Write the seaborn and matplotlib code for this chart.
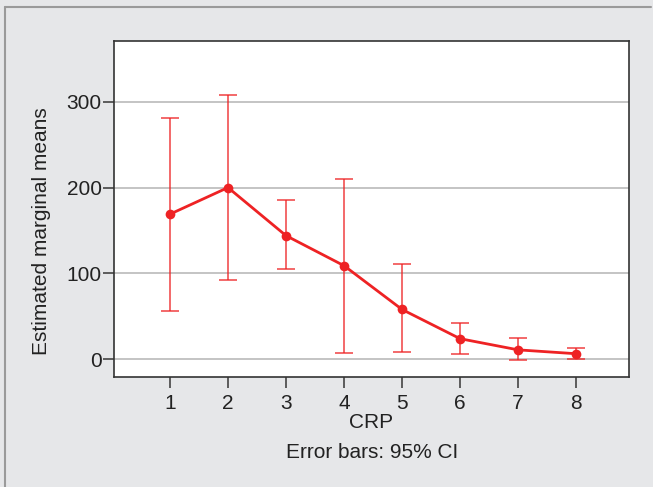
import matplotlib
matplotlib.use("Agg")
import matplotlib.pyplot as plt
import seaborn as sns
import pandas as pd
from matplotlib.lines import Line2D

crp = [1, 2, 3, 4, 5, 6, 7, 8]
means = [169, 200, 144, 109, 58, 24, 11, 6.5]
lower = [56, 92, 105, 7, 8, 6, -1, 0.5]
upper = [281, 308, 186, 210, 111, 42.5, 24.5, 13]
yticks = [0, 100, 200, 300]

sns.set_theme(style="white")
plt.rcParams['font.family'] = ['Liberation Sans', 'DejaVu Sans']

bg = "#e6e7e9"
red = "#ee2224"
fig = plt.figure(figsize=(6.53, 4.87), dpi=100, facecolor=bg)
ax = fig.add_axes([114/653, 1-377/487, (629-114)/653, (377-40.7)/487])
ax.set_facecolor("white")

df = pd.DataFrame({"CRP": crp, "mean": means})
for y in yticks:
    ax.axhline(y, color="#b4b4b4", lw=1.1, zorder=0)

yerr = [[m - l for m, l in zip(means, lower)], [u - m for m, u in zip(means, upper)]]
ax.errorbar(crp, means, yerr=yerr, fmt="none", ecolor=red, alpha=0.8,
            elinewidth=1.2, capsize=6.5, capthick=1.2, zorder=2)
sns.lineplot(data=df, x="CRP", y="mean", ax=ax, color=red, lw=2,
             marker="o", markersize=7, markeredgewidth=0, zorder=3)

ax.set_xlim(0.036, 8.91)
ax.set_ylim(-20.6, 371)
ax.set_xticks(crp)
ax.set_xticklabels([str(c) for c in crp])
ax.set_yticks(yticks)
ax.set_xlabel("")
ax.set_ylabel("")
for s in ax.spines.values():
    s.set_color("#333333")
    s.set_linewidth(1.2)
ax.tick_params(axis="x", direction="out", length=8, width=1.2, color="#444444",
               labelsize=15, labelcolor="#222222", pad=4, bottom=True)
ax.tick_params(axis="y", direction="out", length=8, width=1.2, color="#444444",
               labelsize=15, labelcolor="#222222", pad=1, left=True)

fig.text(371/653, 1-423/487, "CRP", ha="center", va="center", fontsize=15, color="#222222")
fig.text(372/653, 1-453/487, "Error bars: 95% CI", ha="center", va="center", fontsize=15, color="#222222")
fig.text(42/653, 1-231/487, "Estimated marginal means", ha="center", va="center",
         rotation=90, fontsize=15, color="#222222")

# figure border (top and left)
fig.add_artist(Line2D([4.5/653, 4.5/653], [0, 1-6.5/487], transform=fig.transFigure,
                      color="#9a9a9a", lw=1.5))
fig.add_artist(Line2D([4.5/653, 651/653], [1-6.5/487, 1-6.5/487], transform=fig.transFigure,
                      color="#9a9a9a", lw=1.5))

fig.savefig("out.png", dpi=100, facecolor=bg)
